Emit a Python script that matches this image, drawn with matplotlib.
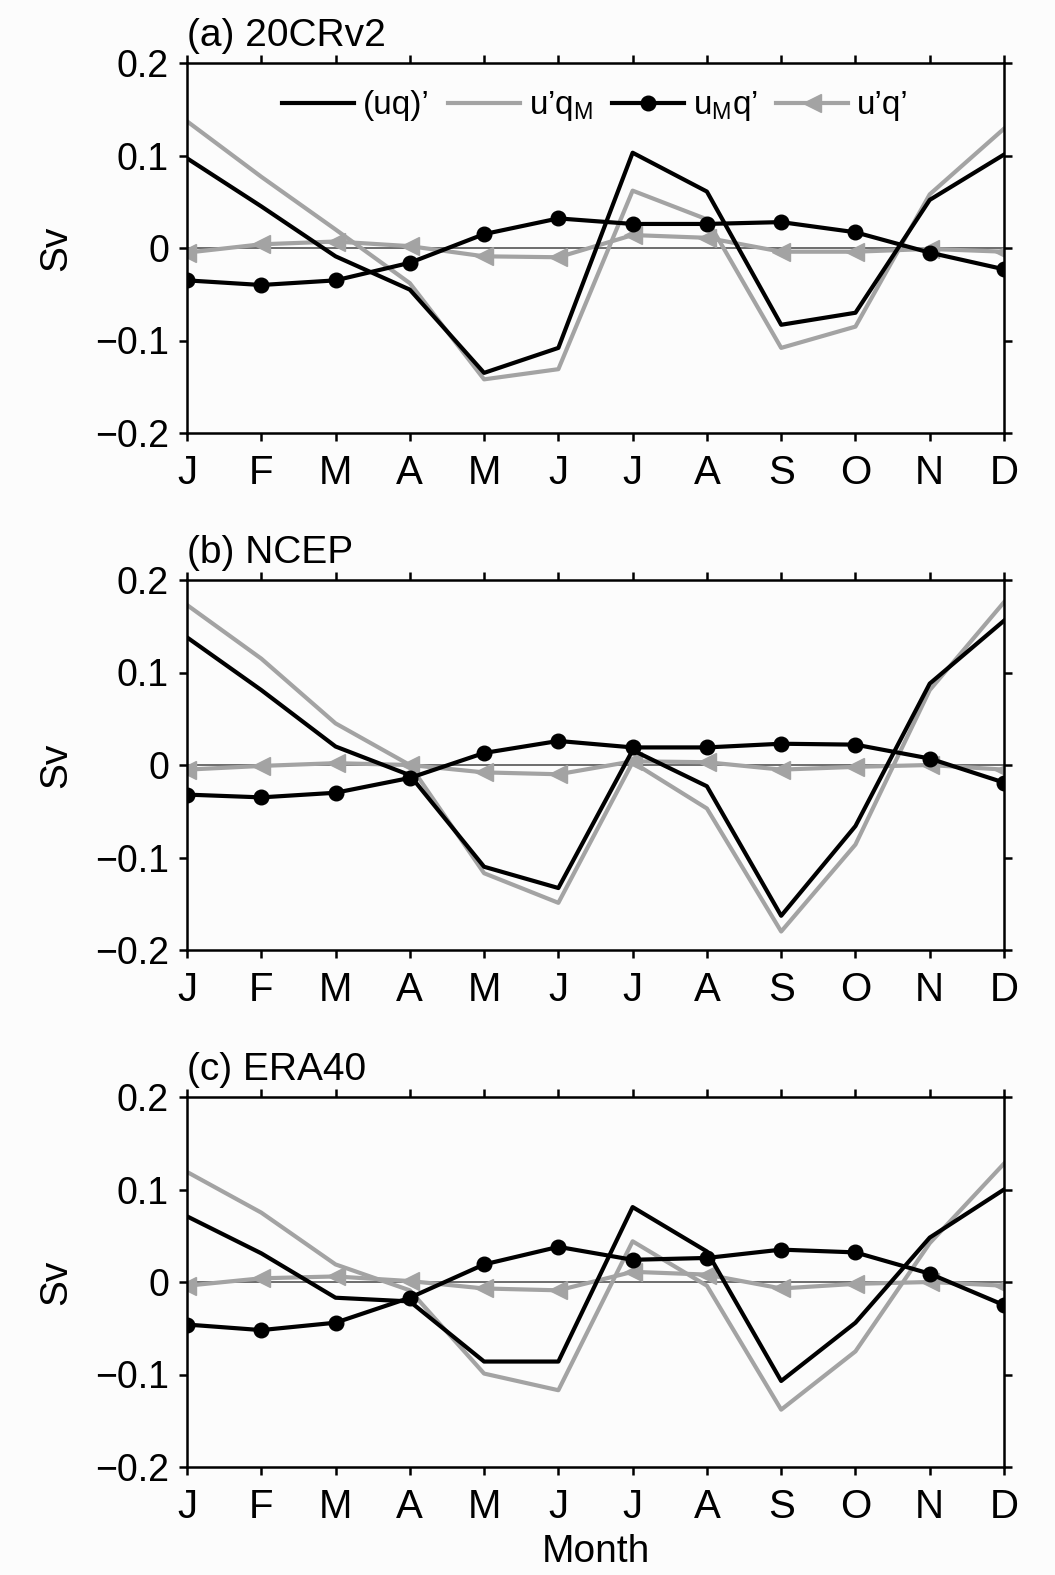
import matplotlib
matplotlib.use("Agg")
import matplotlib.pyplot as plt
import numpy as np

plt.rcParams['font.family'] = ['Liberation Sans', 'DejaVu Sans']
plt.rcParams['mathtext.fontset'] = 'custom'
plt.rcParams['mathtext.rm'] = 'Liberation Sans'

months = ["J", "F", "M", "A", "M", "J", "J", "A", "S", "O", "N", "D"]
titles = ["(a) 20CRv2", "(b) NCEP", "(c) ERA40"]
yticks = [-0.2, -0.1, 0.0, 0.1, 0.2]
yticklabels = ["\u22120.2", "\u22120.1", "0", "0.1", "0.2"]

# (uq)'
uq_a = [0.097, 0.045, -0.009, -0.045, -0.135, -0.108, 0.103, 0.061, -0.083, -0.070, 0.052, 0.101]
uq_b = [0.138, 0.081, 0.020, -0.011, -0.110, -0.133, 0.016, -0.023, -0.163, -0.066, 0.088, 0.156]
uq_c = [0.071, 0.031, -0.017, -0.021, -0.086, -0.086, 0.081, 0.033, -0.107, -0.044, 0.048, 0.100]

# u'q_M
upqM_a = [0.137, 0.077, 0.020, -0.038, -0.142, -0.131, 0.062, 0.031, -0.108, -0.085, 0.058, 0.129]
upqM_b = [0.173, 0.115, 0.045, 0.000, -0.117, -0.149, 0.003, -0.047, -0.180, -0.086, 0.081, 0.176]
upqM_c = [0.119, 0.075, 0.019, -0.009, -0.099, -0.117, 0.044, -0.004, -0.138, -0.075, 0.042, 0.128]

# u_M q'
uMqp_a = [-0.035, -0.040, -0.035, -0.016, 0.015, 0.032, 0.026, 0.026, 0.028, 0.017, -0.005, -0.023]
uMqp_b = [-0.032, -0.035, -0.030, -0.014, 0.013, 0.026, 0.019, 0.019, 0.023, 0.022, 0.007, -0.019]
uMqp_c = [-0.046, -0.052, -0.044, -0.017, 0.019, 0.038, 0.024, 0.026, 0.035, 0.032, 0.009, -0.025]

# u'q'
upqp_a = [-0.005, 0.004, 0.007, 0.002, -0.009, -0.010, 0.014, 0.011, -0.004, -0.004, -0.001, -0.004]
upqp_b = [-0.005, -0.001, 0.002, 0.000, -0.008, -0.010, 0.004, 0.003, -0.005, -0.002, 0.000, -0.005]
upqp_c = [-0.004, 0.004, 0.006, 0.001, -0.007, -0.009, 0.011, 0.008, -0.007, -0.002, 0.000, -0.004]

panels = [
    (uq_a, upqM_a, uMqp_a, upqp_a),
    (uq_b, upqM_b, uMqp_b, upqp_b),
    (uq_c, upqM_c, uMqp_c, upqp_c),
]

GRAY = "#a3a3a3"
W, H = 1055, 1575
fig = plt.figure(figsize=(W / 100, H / 100), dpi=100)
fig.patch.set_facecolor("#fcfcfc")

left = 187 / W
width = (1004 - 187) / W
tops = [63, 580, 1097]
ph = 370

x = np.arange(12)
for i, (data, top) in enumerate(zip(panels, tops)):
    ax = fig.add_axes([left, 1 - (top + ph) / H, width, ph / H])
    ax.set_facecolor("#fcfcfc")
    uq, upqM, uMqp, upqp = data
    ax.axhline(0, color="#555555", lw=1.2, zorder=1)
    l1, = ax.plot(x, uq, color="black", lw=3.0, label="(uq)\u2019", zorder=3)
    l2, = ax.plot(x, upqM, color=GRAY, lw=3.0, label="u\u2019q$_\\mathregular{M}$", zorder=2)
    l3, = ax.plot(x, uMqp, color="black", lw=3.0, marker="o", ms=10.5,
                  label="u$_\\mathregular{M}$q\u2019", zorder=4)
    l4, = ax.plot(x, upqp, color=GRAY, lw=3.0, marker="<", ms=13,
                  label="u\u2019q\u2019", zorder=2)
    ax.set_xlim(0, 11)
    ax.set_ylim(-0.2, 0.2)
    ax.set_xticks(x)
    ax.set_xticklabels(months)
    ax.set_yticks(yticks)
    ax.set_yticklabels(yticklabels)
    ax.tick_params(axis="both", direction="out", length=6, width=1.8,
                   top=True, right=True)
    ax.tick_params(axis="x", pad=9, labelsize=29)
    ax.tick_params(axis="y", pad=7, labelsize=27)
    for s in ax.spines.values():
        s.set_linewidth(1.8)
    ax.set_ylabel("Sv", fontsize=28, labelpad=15)
    ax.set_title(titles[i], loc="left", fontsize=28, pad=12)
    if i == 0:
        ax.legend(handles=[l1, l2, l3, l4], loc="upper center",
                  bbox_to_anchor=(0.5, 1.01), ncol=4, frameon=False,
                  fontsize=24, handlelength=2.15, handletextpad=0.28,
                  columnspacing=0.55)
    if i == 2:
        ax.set_xlabel("Month", fontsize=28, labelpad=6)

fig.savefig("out.png", dpi=100, facecolor=fig.get_facecolor())
